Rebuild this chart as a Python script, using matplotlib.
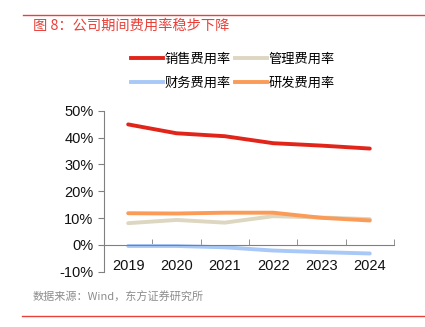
import matplotlib
matplotlib.use("Agg")
from matplotlib import pyplot as plt
from matplotlib.lines import Line2D

plt.rcParams['font.family'] = ['Liberation Sans', 'Noto Sans CJK SC', 'DejaVu Sans']

# 数据
years = ['2019', '2020', '2021', '2022', '2023', '2024']
sales = [44.9, 41.6, 40.5, 37.9, 37.0, 35.9]
admin = [8.1, 9.3, 8.3, 10.7, 10.2, 9.6]
finance = [-0.4, -0.4, -0.9, -2.1, -2.7, -3.2]
rnd = [11.8, 11.7, 12.0, 12.0, 10.1, 9.1]
names = ['销售费用率', '管理费用率', '财务费用率', '研发费用率']
colors = ['#E1251B', '#DDD6C1', '#A8C9F7', '#FA9B58']

fig = plt.figure(figsize=(4.25, 3.27), dpi=100)
ax = fig.add_axes([0.2447, 0.169, 0.6823, 0.4924])

x = list(range(len(years)))
for s, c in zip([sales, admin, finance, rnd], colors):
    ax.plot(x, s, color=c, lw=2.8, solid_capstyle='round')

ax.set_xlim(-0.5, 5.5)
ax.set_ylim(-10, 50)
ax.set_yticks([-10, 0, 10, 20, 30, 40, 50])
ax.set_yticklabels(['-10%', '0%', '10%', '20%', '30%', '40%', '50%'])
ax.set_xticks(x)
ax.set_xticklabels(years)
ax.set_xticks([i - 0.5 for i in range(len(years) + 1)], minor=True)
ax.tick_params(axis='x', which='major', length=0, pad=10, labelsize=10.5, colors='#111111')
ax.tick_params(axis='x', which='minor', direction='in', length=4, color='#808080')
ax.tick_params(axis='y', length=4, color='#808080', labelsize=10.5, labelcolor='#111111')

for k in ['top', 'right']:
    ax.spines[k].set_visible(False)
ax.spines['bottom'].set_position(('data', 0))
ax.spines['bottom'].set_color('#808080')
ax.spines['left'].set_color('#808080')

# 图例按行排列: 销售/管理, 财务/研发
order = [0, 2, 1, 3]
handles = [Line2D([], [], color=colors[i], lw=2.8) for i in order]
labels = [names[i] for i in order]
fig.legend(handles, labels, loc='center', bbox_to_anchor=(0.548, 0.782), ncol=2,
           frameon=False, handlelength=2.4, handletextpad=0.15,
           columnspacing=0.3, labelspacing=0.8,
           prop={'family': ['Noto Sans CJK SC'], 'size': 9.5})

# 顶部/底部红线, 标题, 来源
fig.add_artist(Line2D([23 / 425, 1], [1 - 15 / 327] * 2, color='#E8413A', lw=1))
fig.add_artist(Line2D([22 / 425, 1], [1 - 316 / 327] * 2, color='#E8413A', lw=1))
fig.text(33 / 425, 1 - 26 / 327, '图 8：公司期间费用率稳步下降', color='#E8413A',
         fontsize=10.3, va='center', family=['Noto Sans CJK SC'])
fig.text(33 / 425, 1 - 297 / 327, '数据来源：Wind，东方证券研究所', color='#8C8C8C',
         fontsize=8, va='center', family=['Noto Sans CJK SC'])

fig.savefig('out.png', dpi=100)
